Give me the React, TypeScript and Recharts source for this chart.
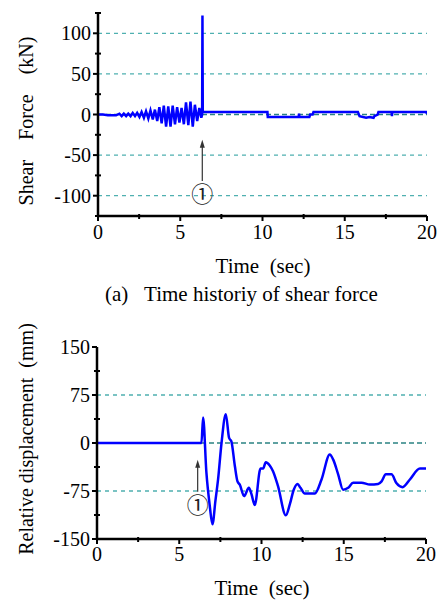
import React from 'react';
import { LineChart, Line, XAxis, YAxis, ReferenceLine } from 'recharts';

// ---- data ----
const shearTime = [
  0, 0.3, 0.6, 0.9, 1.1, 1.3, 1.44, 1.57, 1.71, 1.84, 1.98, 2.11, 2.25, 2.38, 2.52, 2.65, 2.79,
  2.92, 3.06, 3.19, 3.33, 3.46, 3.6, 3.73, 3.87, 4.0, 4.14, 4.27, 4.41, 4.54, 4.68, 4.81, 4.95,
  5.08, 5.22, 5.35, 5.49, 5.62, 5.76, 5.89, 6.03, 6.16, 6.28, 6.33, 6.35, 6.37, 10.3, 10.32,
  12.2, 12.22, 12.24, 12.85, 12.9, 13.05, 13.1, 15.8, 15.9, 16.3, 16.5, 16.75, 16.8, 17.0,
  17.05, 17.85, 17.87, 17.89, 19.95, 20,
];
const shearForce = [
  0, 0, -1, -1, -1, 1, -2, 1, -2, 1, -2, 2, -2, 2, -3, 3, -4,
  4, -5, 5, -6, 6, -8, 9, -11, 11, -15, 10, -15, 11, -12, 9, -10,
  8, -12, 15, -13, 16, -15, 12, -8, 8, -4, 0, 122, 3, 3, -3,
  -3, 1, -3, -3, 0, 0, 3, 3, -2, -4, -3, -4, -2, 0,
  3, 3, -2, 3, 3, 1,
];

const dispTime = [
  0, 6.35, 6.45, 6.65, 6.85, 7.02, 7.2, 7.36, 7.57, 7.83, 8.03, 8.17, 8.38, 8.54, 8.68, 8.94,
  9.23, 9.39, 9.59, 9.94, 10.1, 10.26, 10.5, 10.7, 11.0, 11.48, 11.72, 11.96, 12.19, 12.37,
  12.63, 13.24, 13.65, 14.15, 14.36, 14.66, 14.96, 15.27, 15.57, 16.08, 16.59, 17.09, 17.3,
  17.56, 17.9, 18.21, 18.58, 19.02, 19.63, 20,
];
const dispValue = [
  0, 0, 40, -46, -97, -127, -90, -57, 0, 45, 8, 2.5, -36, -60, -65, -83,
  -70, -80, -97, -40, -40, -30, -35, -44, -67, -113, -96, -73, -64, -70,
  -79, -79, -57, -18, -26, -49, -73, -70, -62, -62, -65, -64, -60,
  -49, -49, -63, -69, -57, -40, -40,
];

const timeTicks = [0, 2.5, 5, 7.5, 10, 12.5, 15, 17.5, 20];
const timeLabeled = [0, 5, 10, 15, 20];
const shearTicks = [-125, -100, -75, -50, -25, 0, 25, 50, 75, 100, 125];
const shearLabeled = [-100, -50, 0, 50, 100];
const shearGridLight = [100, 50, -50, -100];
const dispTicks = [-150, -112.5, -75, -37.5, 0, 37.5, 75, 112.5, 150];
const dispLabeled = [-150, -75, 0, 75, 150];
const dispGridLight = [75, -75];

// annotation (① arrow) positions in data units: [time, baseValue, tipValue]
const shearArrow = [6.34, -82, -31];
const dispArrow = [6.12, -76, -26];

const shearData = shearTime.map((t, i) => ({ t, v: shearForce[i] }));
const dispData = dispTime.map((t, i) => ({ t, v: dispValue[i] }));

const SERIF = 'Liberation Serif';
const CIRCLED = 'Noto Sans CJK JP';
const LIGHT_TEAL = '#4fb0b0';
const DARK_TEAL = '#2a8282';

const makeXTick = (labeled: number[], labelDy: number) => (props: any) => {
  const { x, y, payload } = props;
  const v = payload.value;
  const major = labeled.includes(v);
  return (
    <g>
      {major ? (
        <line x1={x} x2={x} y1={y} y2={y + 5} stroke="#000" strokeWidth={2} />
      ) : (
        <line x1={x} x2={x} y1={y - 2} y2={y + 3} stroke="#000" strokeWidth={2} />
      )}
      {major && (
        <text x={x} y={y + labelDy} textAnchor="middle" fontFamily={SERIF} fontSize={20} fill="#000">
          {v}
        </text>
      )}
    </g>
  );
};

const makeYTick = (labeled: number[]) => (props: any) => {
  const { x, y, payload } = props;
  const v = payload.value;
  const major = labeled.includes(v);
  return (
    <g>
      {major ? (
        <line x1={x - 5} x2={x} y1={y} y2={y} stroke="#000" strokeWidth={2} />
      ) : (
        <line x1={x - 3} x2={x + 3} y1={y} y2={y} stroke="#000" strokeWidth={2} />
      )}
      {major && (
        <text x={x - 7} y={y} dy={7} textAnchor="end" fontFamily={SERIF} fontSize={20} fill="#000">
          {v}
        </text>
      )}
    </g>
  );
};

const arrowShape = (props: any) => {
  const { x1, y1, x2, y2 } = props;
  return (
    <g>
      <line x1={x1} y1={y1} x2={x2} y2={y2 + 6} stroke="#333" strokeWidth={1.2} />
      <polygon points={`${x2},${y2} ${x2 - 2.5},${y2 + 8} ${x2 + 2.5},${y2 + 8}`} fill="#333" />
      <text
        x={x1}
        y={y1 + 11}
        textAnchor="middle"
        dominantBaseline="central"
        fontSize={22}
        fontFamily={CIRCLED}
        fill="#222"
      >
        ①
      </text>
    </g>
  );
};

const axisLineStyle = { stroke: '#000', strokeWidth: 2.5 };

export default function App() {
  return (
    <div style={{ position: 'absolute', left: 0, top: 0, width: 447, height: 601, background: '#fff' }}>
      <div style={{ position: 'absolute', left: 0, top: 0 }}>
        <LineChart width={447} height={300} data={shearData} margin={{ top: 13, right: 20, left: 0, bottom: 0 }}>
          <XAxis
            dataKey="t"
            type="number"
            domain={[0, 20]}
            ticks={timeTicks}
            interval={0}
            tickSize={0}
            tickMargin={0}
            tickLine={false}
            tick={makeXTick(timeLabeled, 23)}
            axisLine={axisLineStyle}
            height={84}
            allowDataOverflow
          />
          <YAxis
            type="number"
            domain={[-125, 125]}
            ticks={shearTicks}
            interval={0}
            tickSize={0}
            tickMargin={0}
            tickLine={false}
            tick={makeYTick(shearLabeled)}
            axisLine={axisLineStyle}
            width={98}
            allowDataOverflow
          />
          {shearGridLight.map((g) => (
            <ReferenceLine key={g} y={g} stroke={LIGHT_TEAL} strokeDasharray="4 4" strokeWidth={1.3} />
          ))}
          <ReferenceLine y={0} stroke={DARK_TEAL} strokeDasharray="5 3" strokeWidth={1.3} />
          <ReferenceLine
            segment={[
              { x: shearArrow[0], y: shearArrow[1] },
              { x: shearArrow[0], y: shearArrow[2] },
            ]}
            shape={arrowShape}
          />
          <Line
            type="linear"
            dataKey="v"
            stroke="#0000ff"
            strokeWidth={2.5}
            dot={false}
            isAnimationActive={false}
          />
        </LineChart>
      </div>
      <div style={{ position: 'absolute', left: 0, top: 300 }}>
        <LineChart width={447} height={301} data={dispData} margin={{ top: 47, right: 21, left: 0, bottom: 0 }}>
          <XAxis
            dataKey="t"
            type="number"
            domain={[0, 20]}
            ticks={timeTicks}
            interval={0}
            tickSize={0}
            tickMargin={0}
            tickLine={false}
            tick={makeXTick(timeLabeled, 22)}
            axisLine={axisLineStyle}
            height={62}
            allowDataOverflow
          />
          <YAxis
            type="number"
            domain={[-150, 150]}
            ticks={dispTicks}
            interval={0}
            tickSize={0}
            tickMargin={0}
            tickLine={false}
            tick={makeYTick(dispLabeled)}
            axisLine={axisLineStyle}
            width={97}
            allowDataOverflow
          />
          {dispGridLight.map((g) => (
            <ReferenceLine key={g} y={g} stroke={LIGHT_TEAL} strokeDasharray="4 4" strokeWidth={1.3} />
          ))}
          <ReferenceLine y={0} stroke={DARK_TEAL} strokeDasharray="5 3" strokeWidth={1.3} />
          <ReferenceLine
            segment={[
              { x: dispArrow[0], y: dispArrow[1] },
              { x: dispArrow[0], y: dispArrow[2] },
            ]}
            shape={arrowShape}
          />
          <Line
            type="monotone"
            dataKey="v"
            stroke="#0000ff"
            strokeWidth={2.5}
            dot={false}
            isAnimationActive={false}
          />
        </LineChart>
      </div>
      <svg width={447} height={601} style={{ position: 'absolute', left: 0, top: 0, pointerEvents: 'none' }}>
        <text
          x={33}
          y={121}
          transform="rotate(-90, 33, 121)"
          textAnchor="middle"
          fontFamily={SERIF}
          fontSize={20}
          fill="#000"
        >
          {'Shear\u00A0\u00A0\u00A0\u00A0Force\u00A0\u00A0\u00A0\u00A0(kN)'}
        </text>
        <text x={263} y={273} textAnchor="middle" fontFamily={SERIF} fontSize={21} fill="#000">
          {'Time\u00A0\u00A0(sec)'}
        </text>
        <text x={105} y={301} textAnchor="start" fontFamily={SERIF} fontSize={21} fill="#000">
          {'(a)\u00A0\u00A0\u00A0Time historiy of shear force'}
        </text>
        <text
          x={33}
          y={439}
          transform="rotate(-90, 33, 439)"
          textAnchor="middle"
          fontFamily={SERIF}
          fontSize={20}
          fill="#000"
        >
          {'Relative displacement\u00A0\u00A0(mm)'}
        </text>
        <text x={262} y={595} textAnchor="middle" fontFamily={SERIF} fontSize={21} fill="#000">
          {'Time\u00A0\u00A0(sec)'}
        </text>
      </svg>
    </div>
  );
}
